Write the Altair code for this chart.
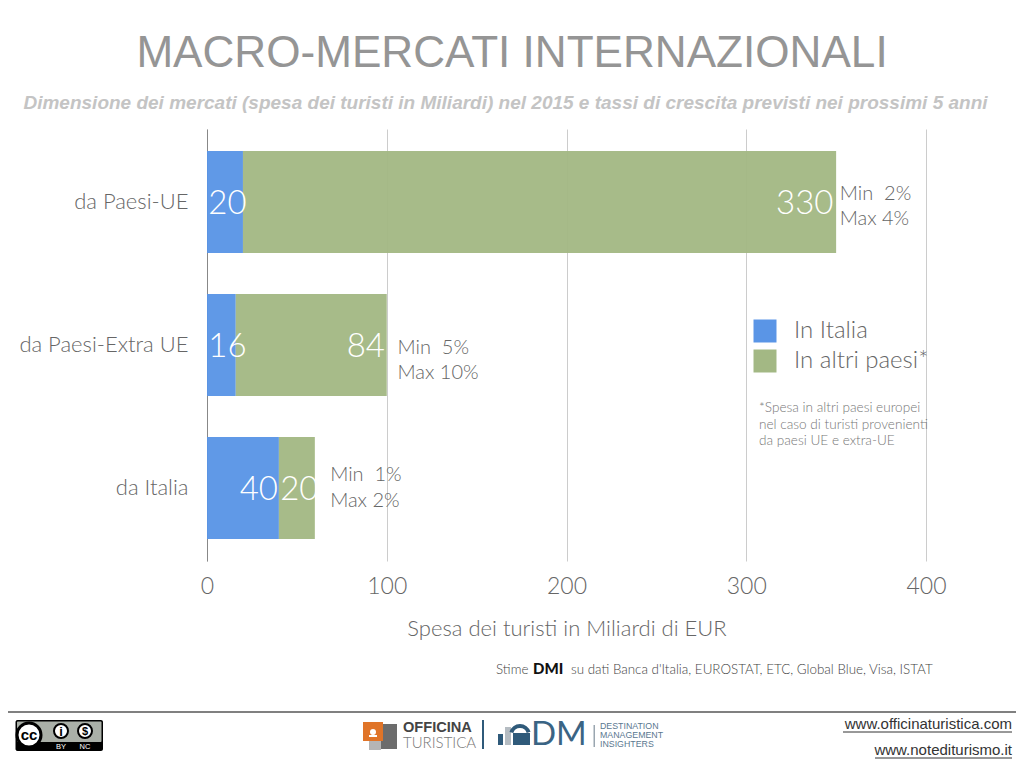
import altair as alt
import pandas as pd

categories = ["da Paesi-UE", "da Paesi-Extra UE", "da Italia"]
in_italia = [20, 16, 40]
in_altri = [330, 84, 20]
series_names = ["In Italia", "In altri paesi*"]
series_colors = ["#5a95e6", "#a3b884"]
x_ticks = [0, 100, 200, 300, 400]
# right edge of each value label, in axis units
label_anchor_italia = [22, 22, 39.5]
label_anchor_altri = [348.5, 99, 62]
# left edge of the growth notes, in axis units
note_x = [352, 106, 68.5]
note_min = ["Min\u00a0\u00a02%", "Min\u00a0\u00a05%", "Min\u00a0\u00a01%"]
note_max = ["Max 4%", "Max 10%", "Max 2%"]
note_dy_min = [-8, 3, -13]
note_dy_max = [17, 28, 13]

LIGHT = "Lato"
GREY = "#666666"
OX, OY = 207, 129
W, H = 719, 432
one = [{"a": 1}]


def X(v):
    return alt.value(v - OX)


def Y(v):
    return alt.value(v - OY)


def txt(s, x, y, size, color=GREY, font=LIGHT, weight=300, style="normal", align="left"):
    return alt.Chart(alt.Data(values=one)).mark_text(
        text=s, font=font, fontSize=size, fontWeight=weight, fontStyle=style,
        color=color, align=align, baseline="alphabetic",
    ).encode(x=X(x), y=Y(y))


def box(x0, y0, x1, y1, color, radius=0):
    return alt.Chart(alt.Data(values=one)).mark_rect(color=color, cornerRadius=radius).encode(
        x=X(x0), x2=X(x1), y=Y(y0), y2=Y(y1))


def dot(x, y, r, fill, stroke=None, sw=0):
    kw = dict(filled=True, fill=fill, size=4 * r * r, shape="circle", opacity=1)
    if stroke:
        kw.update(stroke=stroke, strokeWidth=sw)
    return alt.Chart(alt.Data(values=one)).mark_point(**kw).encode(x=X(x), y=Y(y))


rows = []
for i, c in enumerate(categories):
    rows.append(dict(cat=c, serie=series_names[0], val=in_italia[i], o=0, anchor=label_anchor_italia[i]))
    rows.append(dict(cat=c, serie=series_names[1], val=in_altri[i], o=1, anchor=label_anchor_altri[i]))
df = pd.DataFrame(rows)

xscale = alt.Scale(domain=[0, 400], nice=False)
yscale = alt.Scale(domain=categories, paddingInner=0.287, paddingOuter=0.154)

bars = alt.Chart(df).mark_bar(opacity=0.96).encode(
    x=alt.X("val:Q", stack="zero", scale=xscale,
            axis=alt.Axis(values=x_ticks, format="d", grid=True, gridColor="#cccccc", domain=False, ticks=False,
                          labelFlush=False, labelFont=LIGHT, labelFontWeight=300, labelFontSize=23,
                          labelColor=GREY, labelPadding=14, title="Spesa dei turisti in Miliardi di EUR",
                          titleFont=LIGHT, titleFontWeight=300, titleFontSize=22, titleColor=GREY,
                          titlePadding=20)),
    y=alt.Y("cat:N", scale=yscale,
            axis=alt.Axis(title=None, ticks=False, domain=True, domainColor="#888888", grid=False,
                          labelFont=LIGHT, labelFontWeight=300, labelFontSize=22, labelColor=GREY,
                          labelPadding=19)),
    color=alt.Color("serie:N", scale=alt.Scale(domain=series_names, range=series_colors),
                    legend=alt.Legend(title=None, orient="none", legendX=546, legendY=190,
                                      symbolType="square", symbolSize=529, symbolStrokeWidth=0,
                                      symbolOpacity=1, labelFont=LIGHT, labelFontWeight=300,
                                      labelFontSize=24, labelColor=GREY, labelOffset=17,
                                      rowPadding=6, labelLimit=300)),
    order=alt.Order("o:Q"),
)

labels = alt.Chart(df).mark_text(font=LIGHT, fontWeight=300, fontSize=33, color="white", align="right",
                                 baseline="middle", dy=2).encode(
    x=alt.X("anchor:Q", scale=xscale), y=alt.Y("cat:N", scale=yscale), text="val:N")

notes = []
for i, c in enumerate(categories):
    d = pd.DataFrame({"cat": [c], "x": [note_x[i]], "mn": [note_min[i]], "mx": [note_max[i]]})
    for field, dy in (("mn", note_dy_min[i]), ("mx", note_dy_max[i])):
        notes.append(alt.Chart(d).mark_text(font=LIGHT, fontWeight=300, fontSize=20, color=GREY, align="left",
                                            baseline="middle", dy=dy).encode(
            x=alt.X("x:Q", scale=xscale), y=alt.Y("cat:N", scale=yscale), text=f"{field}:N"))

texts = [
    txt("MACRO-MERCATI INTERNAZIONALI", 512, 67, 44.1, "#959595", "Liberation Sans", 400, align="center"),
    txt("Dimensione dei mercati (spesa dei turisti in Miliardi) nel 2015 e tassi di crescita previsti nei prossimi 5 anni",
        505.5, 109, 19, "#c4c4c4", "Liberation Sans", 700, "italic", "center"),
    txt("*Spesa in altri paesi europei", 759, 412, 13.6, "#777777"),
    txt("nel caso di turisti provenienti", 759, 429, 13.6, "#777777"),
    txt("da paesi UE e extra-UE", 759, 445, 13.6, "#777777"),
    txt("Stime", 496, 674, 13.4, "#444444"),
    txt("DMI", 533, 674, 15, "#111111", "Lato", 900),
    txt("su dati Banca d'Italia, EUROSTAT, ETC, Global Blue, Visa, ISTAT", 571, 674, 13.4, "#444444"),
]

footer = [
    alt.Chart(alt.Data(values=one)).mark_rule(color="#808080", strokeWidth=2).encode(
        x=X(0), x2=X(1024), y=Y(712)),
    # CC badge
    box(15.5, 720, 103, 751, "#000000", 2),
    box(17, 721.5, 101.5, 742, "#aab0a8", 1),
    dot(29, 735, 12, "#ffffff", "#000000", 3),
    txt("cc", 29, 740, 15, "#000000", "Liberation Sans", 700, align="center"),
    dot(61, 731, 7, "#ffffff", "#000000", 2),
    txt("i", 61, 736, 13, "#000000", "Liberation Sans", 700, align="center"),
    dot(85, 731, 7, "#ffffff", "#000000", 2),
    txt("$", 85, 735, 11, "#000000", "Liberation Sans", 700, align="center"),
    txt("BY", 61, 749, 7.5, "#ffffff", "Liberation Sans", 400, align="center"),
    txt("NC", 85, 749, 7.5, "#ffffff", "Liberation Sans", 400, align="center"),
    # Officina Turistica logo
    box(381, 724, 397, 749, "#6c6c6c"),
    box(369, 741, 381, 750, "#b5b5b5"),
    box(363, 722, 383, 741, "#e07428"),
    box(369, 735, 377, 737, "#ffffff"),
    dot(373, 732, 3, "#ffffff"),
    txt("OFFICINA", 403, 732, 14.6, "#444444", "Liberation Sans", 700),
    txt("TURISTICA", 403, 748, 15, "#777777", "Lato", 300),
    box(482, 720, 484, 749, "#2f5a7a"),
    # DMI logo
    box(498, 734, 503, 745, "#2f5a7a"),
    box(505, 727, 511, 745, "#b5bcc2"),
    box(513, 733, 530, 745, "#2f5a7a"),
    alt.Chart(alt.Data(values=one)).mark_arc(color="#2f5a7a", radius=11, radius2=7, theta=5.0, theta2=7.56).encode(
        x=X(520), y=Y(735)),
    txt("DM", 531, 745, 33, "#3a6484", "Lato", 400),
    box(593.5, 725, 595, 747, "#9aa6b0"),
    txt("DESTINATION", 600, 729, 8.8, "#5a7890", "Liberation Sans", 400),
    txt("MANAGEMENT", 600, 738, 8.8, "#5a7890", "Liberation Sans", 400),
    txt("INSIGHTERS", 600, 747, 8.8, "#5a7890", "Liberation Sans", 400),
    # links
    txt("www.officinaturistica.com", 1012, 729, 15, "#333333", "Liberation Sans", 400, align="right"),
    txt("www.notediturismo.it", 1012, 755, 15, "#333333", "Liberation Sans", 400, align="right"),
    alt.Chart(alt.Data(values=one)).mark_rule(color="#333333", strokeWidth=1).encode(
        x=X(843), x2=X(1012), y=Y(732)),
    alt.Chart(alt.Data(values=one)).mark_rule(color="#333333", strokeWidth=1).encode(
        x=X(875), x2=X(1012), y=Y(758)),
]

chart = alt.layer(bars, labels, *notes, *texts, *footer).resolve_scale(x="shared", y="shared").properties(
    width=W, height=H, autosize="none",
    padding={"left": OX - 8, "top": OY - 8, "right": 1008 - (OX - 8) - W, "bottom": 752 - (OY - 8) - H},
).configure_view(stroke=None)

chart.save("out.html", embed_options={"renderer": "svg", "actions": False})
